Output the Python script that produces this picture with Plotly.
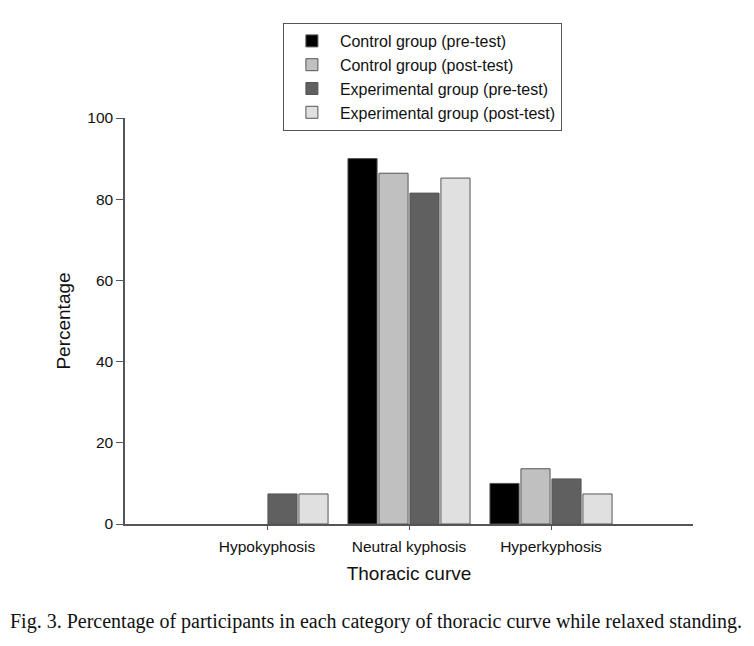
import plotly.graph_objects as go

categories = ["Hypokyphosis", "Neutral kyphosis", "Hyperkyphosis"]
groups = ["Control group (pre-test)", "Control group (post-test)",
          "Experimental group (pre-test)", "Experimental group (post-test)"]
control_pre = [0, 90.0, 10.0]
control_post = [0, 86.4, 13.6]
exp_pre = [7.4, 81.5, 11.1]
exp_post = [7.4, 85.2, 7.4]
colors = ["#000000", "#c0c0c0", "#606060", "#e0e0e0"]

fig = go.Figure()
for name, vals, col in zip(groups, [control_pre, control_post, exp_pre, exp_post], colors):
    # zero bars are not drawn at all (no outline line on the axis)
    yv = [v if v != 0 else None for v in vals]
    fig.add_trace(go.Bar(x=categories, y=yv, name=name,
                         marker=dict(color=col, line=dict(color="#555555", width=1))))

# page has an 8px body margin, so the figure is sized a bit smaller
fig.update_layout(
    width=746, height=638, autosize=False,
    paper_bgcolor="white", plot_bgcolor="white",
    margin=dict(l=117, r=61, t=110, b=122),
    barmode="group", bargap=0.127, bargroupgap=0.06,
    font=dict(family="Liberation Sans, Arial, sans-serif", size=15, color="#111111"),
    legend=dict(x=0.278, y=1.234, xanchor="left", yanchor="top",
                bordercolor="#555555", borderwidth=1, bgcolor="white",
                font=dict(size=16), itemwidth=46, tracegroupgap=0, traceorder="normal"),
    showlegend=True,
)
fig.update_xaxes(range=[-1, 3], showline=True, linecolor="#555555", linewidth=1.5,
                 ticks="outside", ticklen=4, tickcolor="#555555", showgrid=False,
                 tickfont=dict(size=15.5), ticklabelstandoff=4,
                 title=dict(text="Thoracic curve", font=dict(size=19), standoff=12))
fig.update_yaxes(range=[0, 100], tickvals=[0, 20, 40, 60, 80, 100], showline=True,
                 linecolor="#555555", linewidth=1.5, ticks="outside", ticklen=7,
                 tickcolor="#555555", showgrid=False, zeroline=False,
                 tickfont=dict(size=15.5), ticklabelstandoff=0,
                 title=dict(text="Percentage", font=dict(size=19), standoff=12))

fig.add_annotation(text="Fig. 3. Percentage of participants in each category of thoracic curve while relaxed standing.",
                   xref="paper", yref="paper", x=-0.206, y=-0.239, xanchor="left", yanchor="middle",
                   showarrow=False, font=dict(family="Liberation Serif, Times New Roman, serif", size=20, color="#111111"))

fig.write_html("out.html")
